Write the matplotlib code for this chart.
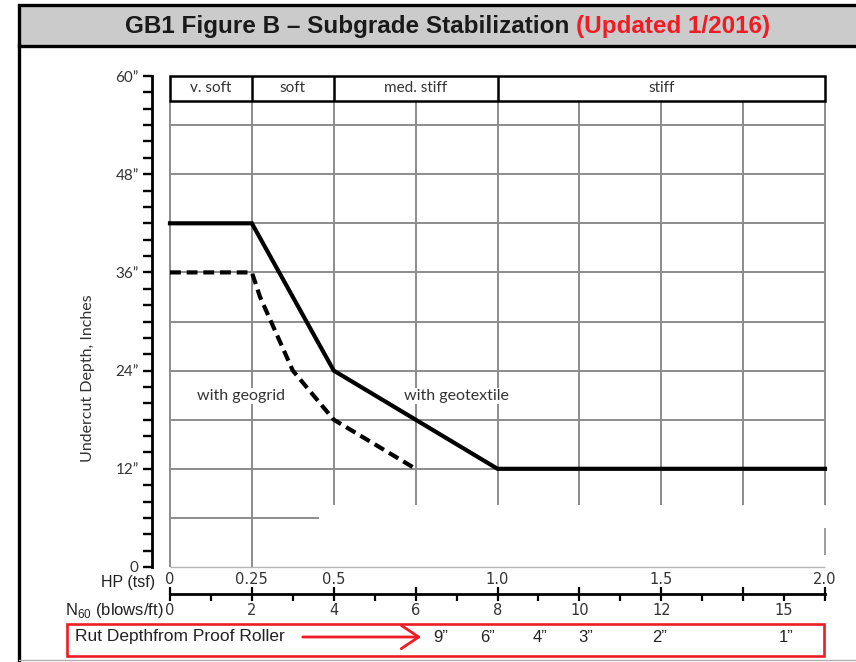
import matplotlib
matplotlib.use('Agg')
import matplotlib.pyplot as plt
import matplotlib.transforms as mtransforms
from matplotlib.patches import Rectangle, FancyArrowPatch
from matplotlib.lines import Line2D
from matplotlib.ticker import FixedLocator, FixedFormatter

W, H = 856, 662

# dane wykresu (N60 na osi x, glebokosc w calach na osi y)
geotextile_n60 = [0, 2, 4, 8, 16]
geotextile_depth = [42, 42, 24, 12, 12]
geogrid_n60 = [0, 2, 2.2, 3, 4, 6]
geogrid_depth = [36, 36, 33, 24, 18, 12]

consistency = ['v. soft', 'soft', 'med. stiff', 'stiff']
consistency_edges = [0, 2, 4, 8, 16]

depth_ticks = [0, 12, 24, 36, 48, 60]
depth_labels = ['0', '12\u201d', '24\u201d', '36\u201d', '48\u201d', '60\u201d']

hp_ticks = [0, 0.25, 0.5, 1.0, 1.5, 2.0]
hp_labels = ['0', '0.25', '0.5', '1.0', '1.5', '2.0']

n60_major = [0, 2, 4, 6, 8, 10, 12, 14, 16]
n60_major_labels = ['0', '2', '4', '6', '8', '10', '12', '', '']
n60_minor = [1, 3, 5, 7, 9, 11, 13, 15]
n60_minor_labels = ['', '', '', '', '', '', '', '15']

rut_labels = ['9\u201d', '6\u201d', '4\u201d', '3\u201d', '2\u201d', '1\u201d']
rut_n60 = [6.6, 7.75, 9.05, 10.15, 11.95, 15.05]

RED = '#ee1c24'
GRID = '#8c8c8c'
TXT = '#333333'

plt.rcParams['font.family'] = ['Lato', 'DejaVu Sans']
plt.rcParams['mathtext.fontset'] = 'custom'
plt.rcParams['mathtext.rm'] = 'Liberation Sans'


def fx(x):
    return x / W


def fy(y):
    return 1 - y / H


fig = plt.figure(figsize=(W / 100, H / 100), dpi=100)
fig.patch.set_facecolor('white')

# Pasek tytulu
fig.add_artist(Rectangle((fx(19), fy(45.5)), fx(860) - fx(19), fy(5) - fy(45.5),
                         transform=fig.transFigure, facecolor='#cbcbcb',
                         edgecolor='black', linewidth=2.4, clip_on=False))
fig.text(fx(569), fy(27), 'GB1 Figure B \u2013 Subgrade Stabilization', ha='right', va='center',
         fontsize=17.5, fontweight='bold', family='Liberation Sans', color='#1a1a1a')
fig.text(fx(576), fy(27), '(Updated 1/2016)', ha='left', va='center',
         fontsize=17.5, fontweight='bold', family='Liberation Sans', color=RED)
fig.add_artist(Line2D([fx(19), fx(19)], [fy(45), fy(662)], transform=fig.transFigure,
                      color='black', linewidth=2.4))
fig.add_artist(Line2D([fx(19), fx(856)], [fy(660), fy(660)], transform=fig.transFigure,
                      color='#b0b0b0', linewidth=1))

ax = fig.add_axes([fx(170), fy(567), fx(825) - fx(170), fy(76) - fy(567)])
ax.set_xlim(0, 16)
ax.set_ylim(0, 60)
ax.patch.set_alpha(0)

# Siatka
ax.hlines([12, 18, 24, 30, 36, 42, 48, 54], 0, 16, color=GRID, linewidth=1.4, clip_on=False, zorder=1)
ax.hlines([6], 0, 3.65, color=GRID, linewidth=1.4, zorder=1)
ax.vlines([0, 2], 0, 57, color=GRID, linewidth=1.4, clip_on=False, zorder=1)
ax.vlines([4, 6, 8, 10, 12, 14, 16], 7.6, 57, color=GRID, linewidth=1.4, clip_on=False, zorder=1)
ax.vlines([16], 1.5, 4.8, color=GRID, linewidth=1.2, clip_on=False, zorder=1)
ax.hlines([0], 0, 16, color='#b5b5b5', linewidth=1.0, clip_on=False, zorder=1)

# Naglowek z konsystencja
ax.add_patch(Rectangle((0, 57), 16, 3, facecolor='white', edgecolor='black',
                       linewidth=1.8, clip_on=False, zorder=3))
ax.vlines(consistency_edges[1:-1], 57, 60, color='black', linewidth=1.8, zorder=4)
for i, name in enumerate(consistency):
    ax.text((consistency_edges[i] + consistency_edges[i + 1]) / 2, 58.5, name,
            ha='center', va='center', fontsize=11, color=TXT, zorder=5)

# Krzywe
ax.plot(geotextile_n60, geotextile_depth, color='black', linewidth=3.0,
        solid_joinstyle='miter', clip_on=False, zorder=6)
ax.plot(geogrid_n60, geogrid_depth, color='black', linewidth=3.0,
        linestyle=(0, (2.6, 1.4)), zorder=6)

ax.text(1.73, 20.9, 'with geogrid', ha='center', va='center', fontsize=11.5, color=TXT,
        bbox=dict(facecolor='white', edgecolor='none', pad=1), zorder=5)
ax.text(7.0, 20.9, 'with geotextile', ha='center', va='center', fontsize=11.5, color=TXT,
        bbox=dict(facecolor='white', edgecolor='none', pad=1), zorder=5)

# Osie
ax.spines['top'].set_visible(False)
ax.spines['right'].set_visible(False)
ax.spines['left'].set_position(('outward', 18 * 0.72))
ax.spines['left'].set_bounds(0, 60)
ax.spines['left'].set_linewidth(2.0)
ax.spines['bottom'].set_position(('outward', 27 * 0.72))
ax.spines['bottom'].set_bounds(0, 16)
ax.spines['bottom'].set_linewidth(2.0)

ax.yaxis.set_major_locator(FixedLocator(depth_ticks))
ax.yaxis.set_major_formatter(FixedFormatter(depth_labels))
ax.yaxis.set_minor_locator(FixedLocator(list(range(0, 61, 2))))
ax.tick_params(axis='y', which='both', length=6.5, width=1.7, direction='out',
               pad=3, labelsize=11, labelcolor=TXT)

ax.xaxis.set_major_locator(FixedLocator(n60_major))
ax.xaxis.set_major_formatter(FixedFormatter(n60_major_labels))
ax.xaxis.set_minor_locator(FixedLocator(n60_minor))
ax.xaxis.set_minor_formatter(FixedFormatter(n60_minor_labels))
ax.tick_params(axis='x', which='major', direction='inout', length=10, width=1.6,
               pad=1.5, labelsize=10.5, labelcolor=TXT)
ax.tick_params(axis='x', which='minor', direction='out', length=5, width=1.6,
               pad=1.5, labelsize=10.5, labelcolor=TXT)
for lbl in ax.get_xticklabels(which='both'):
    lbl.set_family('DejaVu Sans')

sec = ax.secondary_xaxis(-27 / 491, functions=(lambda n: n / 8, lambda h: h * 8))
sec.set_xticks(hp_ticks, hp_labels)
sec.tick_params(top=False, bottom=False, labeltop=True, labelbottom=False,
                length=0, pad=5, labelsize=10.5, labelcolor=TXT)
for s in sec.spines.values():
    s.set_visible(False)
for lbl in sec.get_xticklabels():
    lbl.set_family('DejaVu Sans')

fig.text(fx(88), fy(378), 'Undercut Depth, Inches', rotation=90, ha='center', va='center',
         fontsize=11.5, color=TXT)
fig.text(fx(155), fy(582), 'HP (tsf)', ha='right', va='center', fontsize=11.5,
         family='Liberation Sans', color='#222222')
fig.text(fx(164), fy(611), r'N$_{60}$ (blows/ft)', ha='right', va='center', fontsize=12,
         family='Liberation Sans', color='#222222')

# Ramka z glebokoscia koleiny
fig.add_artist(Rectangle((fx(67), fy(656)), fx(824) - fx(67), fy(624) - fy(656),
                         transform=fig.transFigure, facecolor='none', edgecolor=RED,
                         linewidth=1.9, clip_on=False))
fig.text(fx(75), fy(637), 'Rut Depthfrom Proof Roller', ha='left', va='center', fontsize=12.5,
         family='Liberation Sans', color='#222222')
fig.add_artist(FancyArrowPatch((fx(300), fy(637)), (fx(424), fy(637)), transform=fig.transFigure,
                               arrowstyle='->,head_length=0.9,head_width=0.6', mutation_scale=14,
                               color=RED, linewidth=2.0))
trans = mtransforms.blended_transform_factory(ax.transData, fig.transFigure)
for x, lab in zip(rut_n60, rut_labels):
    ax.text(x, fy(637), lab, transform=trans, ha='center', va='center', fontsize=12,
            family='Liberation Sans', color='#222222', clip_on=False)

fig.savefig('out.png', dpi=100)
